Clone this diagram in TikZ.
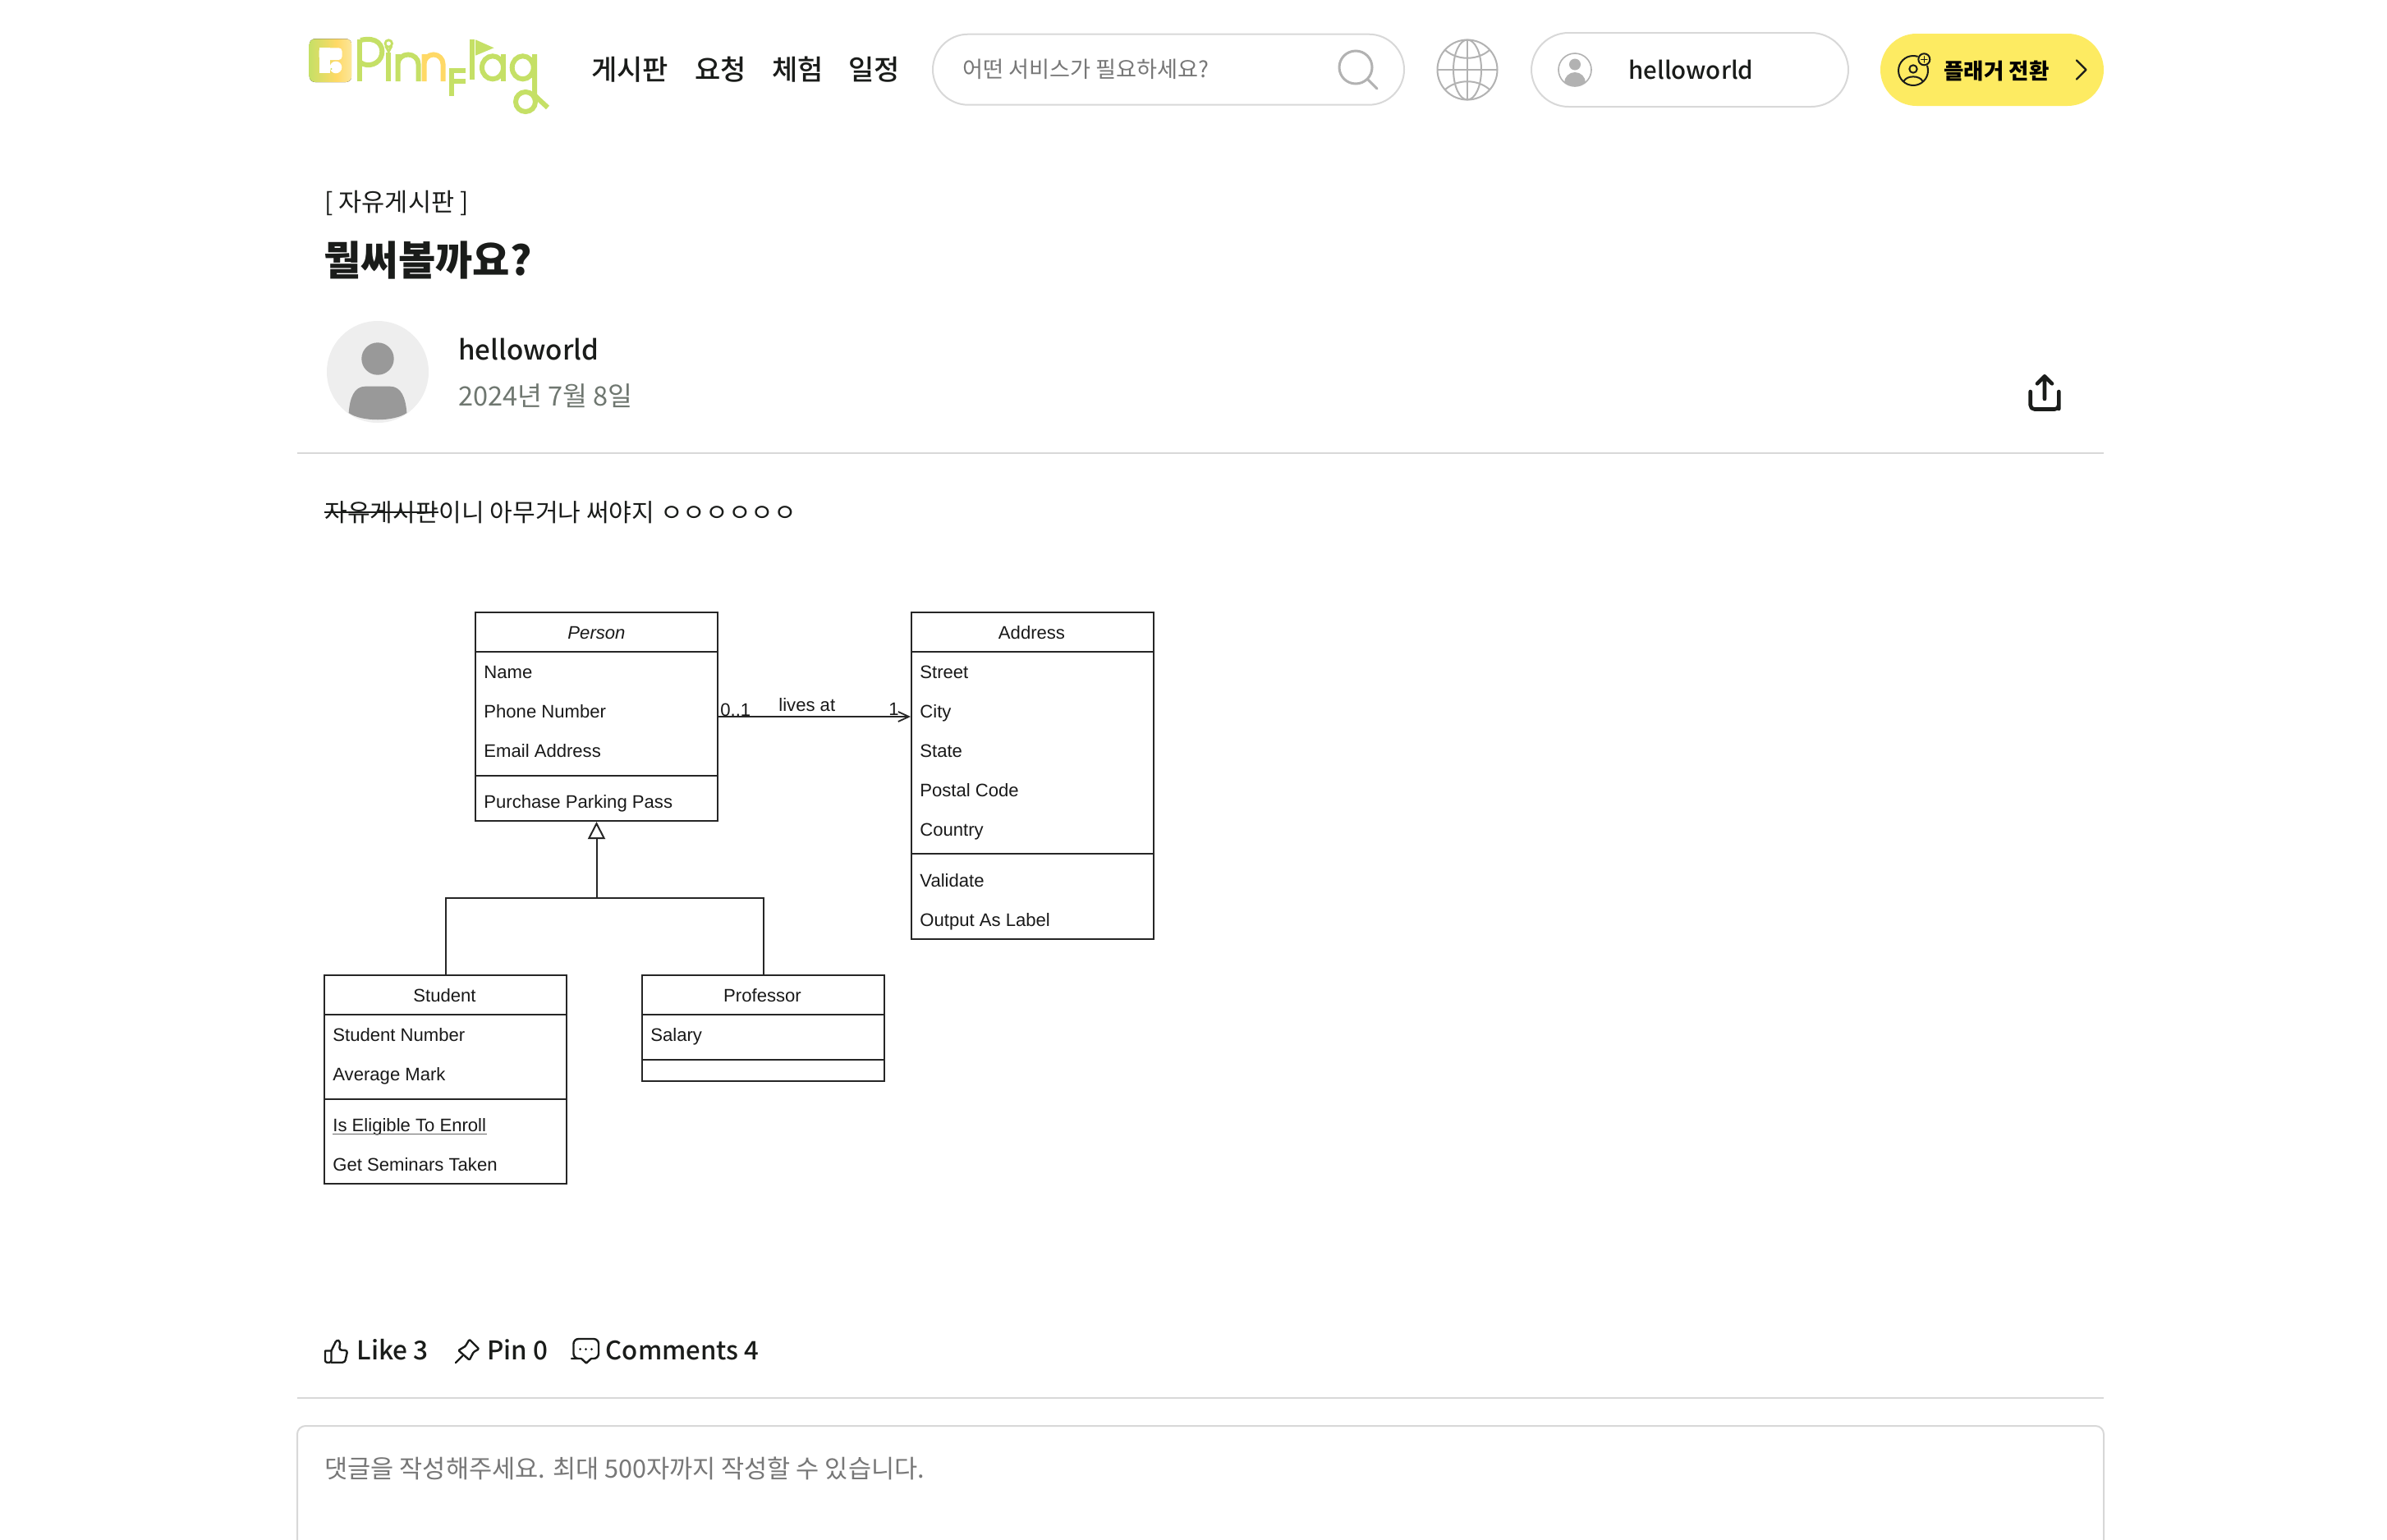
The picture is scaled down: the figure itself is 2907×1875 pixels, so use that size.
\documentclass[tikz,border=0pt]{standalone}
\usepackage{fontspec}
\setmainfont{Liberation Sans}
\newfontfamily\kr{Noto Sans CJK KR}
\newfontfamily\krm{Noto Sans CJK KR Medium}
\usetikzlibrary{arrows.meta,calc}
\definecolor{ink}{HTML}{1A1C1A}
\definecolor{rule}{HTML}{D8D8D8}
\definecolor{hint}{HTML}{777777}
\definecolor{dategray}{HTML}{6F7770}
\definecolor{icongray}{HTML}{B2B2B2}
\definecolor{btn}{HTML}{FDEB62}
\definecolor{lime}{HTML}{C5E066}
\definecolor{sun}{HTML}{FFD966}
\definecolor{pale}{HTML}{FBE79E}
\newcommand{\fpx}[1]{\fontsize{\the\dimexpr #1pt/2\relax}{\the\dimexpr #1pt/2\relax}\selectfont}
\tikzset{
  txt/.style={anchor=base west,inner sep=0pt,text=ink},
  umltxt/.style={anchor=base west,inner sep=0pt,text=black!90,font=\fontsize{11.05}{13}\selectfont},
  umltitle/.style={anchor=base,inner sep=0pt,text=black!90,font=\fontsize{11.05}{13}\selectfont},
  classbox/.style={draw=black!85,line width=1pt,anchor=north west,inner sep=0pt,minimum width=147.5pt},
  umlline/.style={draw=black!85,line width=1pt},
  hair/.style={draw=rule,line width=1pt},
  logostroke/.style={draw=lime,line width=3pt},
  icon/.style={draw=ink,line width=1.2pt,line cap=round,line join=round},
}
\begin{document}
\begin{tikzpicture}[x=0.5pt,y=-0.5pt]
\path[use as bounding box,fill=white] (0,0) rectangle (2907,1875);
% logo
\begin{scope}
\clip[rounded corners=3.5pt] (376.7,47.3) rectangle (428.3,100);
\fill[left color=lime,right color=sun] (376,47) rectangle (410,101);
\fill[left color=sun,right color=pale] (410,47) rectangle (429,101);
\end{scope}
\fill[white] (388.5,58.3) rectangle (401.5,89.3);
\fill[white,rounded corners=2pt] (388.5,58.3) rectangle (416.5,73);
\fill[white] (409,82) circle[radius=7.3];
\fill[lime] (403.5,84) circle[radius=1.2];
\draw[logostroke] (437.8,99) -- (437.8,48);
\draw[logostroke] (439,49) .. controls (460,44) and (467,56) .. (465,66) .. controls (463,78) and (448,83) .. (439,76);
\draw[logostroke] (473,64) -- (473,99);
\draw[draw=lime,line width=1.4pt] (473.3,53) circle[radius=4.2];
\draw[draw=lime,line width=1.4pt] (469.6,56) -- (473.3,63) -- (477,56);
\draw[logostroke] (484.5,99) -- (484.5,66) (484.5,78) arc[start angle=180,end angle=360,x radius=12.5,y radius=11.5] -- (509.5,99);
\draw[draw=sun,line width=3pt] (516.5,99) -- (516.5,66) (516.5,78) arc[start angle=180,end angle=360,x radius=11.5,y radius=11.5] -- (539.5,99);
\draw[logostroke] (550,117) -- (550,83);
\draw[logostroke] (548,85.5) -- (567,85.5) (548,99) -- (567,99);
\draw[logostroke] (574.5,48) -- (574.5,97);
\fill[lime] (579,48.3) -- (601.5,58.3) -- (579,67.7) -- cycle;
\draw[logostroke] (600,82.3) ellipse[x radius=13,y radius=14];
\draw[logostroke] (612.5,66) -- (612.5,99);
\draw[logostroke] (636.7,82.3) ellipse[x radius=13,y radius=14];
\draw[logostroke] (651,66) -- (651,111) .. controls (651,116) .. (654,119) -- (667,131);
\draw[logostroke] (640,124) circle[radius=12];
% nav
\node[txt,font=\krm\fpx{34}] (nav1) at (720,97) {게시판};
\node[txt,font=\krm\fpx{34}] (nav2) at (846,97) {요청};
\node[txt,font=\krm\fpx{34}] (nav3) at (940,97) {체험};
\node[txt,font=\krm\fpx{34}] (nav4) at (1033,97) {일정};
% search
\draw[hair,rounded corners=21.5pt] (1136,41.7) rectangle (1710,127.7);
\node[txt,text=hint,font=\kr\fpx{27.2}] (search) at (1172,94.5) {어떤 서비스가 필요하세요?};
\draw[icongray,line width=1.5pt,line cap=round] (1651,82) circle[radius=20] (1665.5,96.5) -- (1677,108);
% globe
\begin{scope}[draw=icongray,line width=1pt]
\draw (1787,85) circle[radius=36.5];
\draw (1787,85) ellipse[x radius=17,y radius=36.5];
\draw (1787,48.5) -- (1787,121.5) (1750.5,85) -- (1823.5,85);
\draw (1760,61) .. controls (1775,74) and (1799,74) .. (1814,61);
\draw (1760,109) .. controls (1775,96) and (1799,96) .. (1814,109);
\end{scope}
% user pill
\draw[hair,rounded corners=22.7pt] (1865,40) rectangle (2251,130);
\draw[icongray,line width=0.8pt] (1918,85) circle[radius=20];
\fill[icongray] (1918,78.5) circle[radius=7];
\begin{scope}
\clip (1918,85) circle[radius=20];
\fill[icongray] (1918,101) ellipse[x radius=13,y radius=13];
\end{scope}
\node[txt,font=\krm\fpx{29.4}] (pillname) at (1983,96) {helloworld};
% planner button
\fill[btn,rounded corners=22pt] (2290,41) rectangle (2562,129);
\draw[icon,line width=1pt] (2330,86) circle[radius=18];
\draw[icon,line width=1pt] (2330,84) circle[radius=4.7];
\draw[icon,line width=1pt] (2318.5,99) .. controls (2322,91.5) and (2338,91.5) .. (2341.5,99);
\fill[btn] (2343.3,72.3) circle[radius=8.4];
\draw[icon,line width=1pt] (2343.3,72.3) circle[radius=7];
\draw[icon,line width=.8pt] (2339.7,72.3) -- (2346.9,72.3) (2343.3,68.7) -- (2343.3,75.9);
\node[txt,text=black,font=\kr\bfseries\fpx{26.5}] (switch) at (2367,96) {플래거 전환};
\draw[icon] (2529,73.5) -- (2540.5,85) -- (2529,96.5);
% heading
\node[txt,font=\kr\fpx{30.6}] (board) at (395,257) {[ 자유게시판 ]};
\node[txt,font=\kr\bfseries\fpx{49.3}] (title) at (394,335) {뭘써볼까요?};
\fill[black!6.5] (460,453) circle[radius=62];
\fill[black!40] (460,437) ellipse[x radius=19.7,y radius=19.7];
\fill[black!40] (424.7,503) .. controls (426,485) and (431,470.7) .. (445,470.7) -- (475,470.7) .. controls (489,470.7) and (494,485) .. (495.4,503) .. controls (480,514) and (440,514) .. (424.7,503) -- cycle;
\node[txt,font=\krm\fpx{33.1}] (author) at (558,438.5) {helloworld};
\node[txt,text=dategray,font=\kr\fpx{32.5}] (date) at (558,494) {2024년 7월 8일};
\draw[icon,line width=2.3pt] (2472.7,477) -- (2472.7,493) [rounded corners=2.5pt] -- (2472.7,498.5) -- (2507.3,498.5) -- (2507.3,493) [sharp corners] -- (2507.3,477);
\draw[icon,line width=2.3pt] (2490,486) -- (2490,459) (2481,467.3) -- (2490,458.3) -- (2499,467.3);
\draw[hair] (362,551.7) -- (2562,551.7);
% body text
\node[txt,font=\kr\fpx{30.1}] (body1) at (395,635.5) {자유게시판};
\node[txt,font=\kr\fpx{30.1}] (body2) at (body1.base east) {이니 아무거나 써야지 ㅇㅇㅇㅇㅇㅇ};
\draw[draw=ink,line width=1pt] (body1.base west |- 0,624) -- (body1.base east |- 0,624);
% UML classes
\node[classbox,minimum height=127pt] (person) at (578,745) {};
\draw[umlline] (person.west |- 0,793.5) -- (person.east |- 0,793.5) (person.west |- 0,945) -- (person.east |- 0,945);
\node[umltitle,font=\itshape\fontsize{11.05}{13}\selectfont] (pt) at (726.5,778) {Person};
\node[umltxt] (p1) at (589,826) {Name};
\node[umltxt] (p2) at (589,874) {Phone Number};
\node[umltxt] (p3) at (589,922) {Email Address};
\node[umltxt] (p4) at (589,984) {Purchase Parking Pass};
\node[classbox,minimum height=199pt] (address) at (1109,745) {};
\draw[umlline] (address.west |- 0,793.5) -- (address.east |- 0,793.5) (address.west |- 0,1040) -- (address.east |- 0,1040);
\node[umltitle] (at) at (1256.5,778) {Address};
\node[umltxt] (a1) at (1120,826) {Street};
\node[umltxt] (a2) at (1120,874) {City};
\node[umltxt] (a3) at (1120,922) {State};
\node[umltxt] (a4) at (1120,970) {Postal Code};
\node[umltxt] (a5) at (1120,1018) {Country};
\node[umltxt] (a6) at (1120,1080) {Validate};
\node[umltxt] (a7) at (1120,1128) {Output As Label};
\node[classbox,minimum height=127pt] (student) at (394,1187) {};
\draw[umlline] (student.west |- 0,1236) -- (student.east |- 0,1236) (student.west |- 0,1339) -- (student.east |- 0,1339);
\node[umltitle] (st) at (541.5,1220) {Student};
\node[umltxt] (s1) at (405,1268) {Student Number};
\node[umltxt] (s2) at (405,1316.5) {Average Mark};
\node[umltxt] (s3) at (405,1378) {Is Eligible To Enroll};
\draw[draw=black!60,line width=.7pt] (s3.base west |- 0,1381.5) -- (s3.base east |- 0,1381.5);
\node[umltxt] (s4) at (405,1426.5) {Get Seminars Taken};
\node[classbox,minimum height=64.5pt] (professor) at (781,1187) {};
\draw[umlline] (professor.west |- 0,1236) -- (professor.east |- 0,1236) (professor.west |- 0,1291.3) -- (professor.east |- 0,1291.3);
\node[umltitle] (pr) at (928.5,1220) {Professor};
\node[umltxt] (pr1) at (792,1268) {Salary};
% connectors
\coordinate (assoc) at (0,873);
\coordinate (bus) at (person.south |- 0,1094);
\draw[umlline,-{Straight Barb[length=6.5pt,width=6pt,line width=.9pt]}] (person.east |- assoc) -- (address.west |- assoc);
\draw[umlline] (student.north) |- (bus) -| (professor.north);
\draw[umlline,-{Triangle[open,length=10.5pt,width=10.5pt,line width=1pt,fill=white]}] (bus) -- (person.south);
\node[umltxt] (l1) at (877,872.5) {0..1};
\node[umltxt] (l2) at (948,866.5) {lives at};
\node[umltxt] (l3) at (1082,871.5) {1};
% reactions
\draw[icon] (403.5,1645.5) -- (396,1645.5) [rounded corners=1.2pt] -- (396,1659.7) -- (403.5,1659.7) [sharp corners] -- cycle;
\draw[icon,rounded corners=1.5pt] (403.5,1645.5) -- (410,1632) -- (414.5,1634) -- (413,1644.5) -- (423.3,1645) -- (420,1659.7) -- (403.5,1659.7);
\node[txt,font=\krm\fpx{31.6}] (like) at (434,1656.7) {Like 3};
\draw[icon,rounded corners=.6pt] (571.7,1631.7) -- (583.3,1643.3) -- (576.7,1647) -- (571.7,1656.7) -- (558.3,1645) -- (566.7,1640) -- cycle;
\draw[icon] (555,1660) -- (563.3,1651.7);
\node[txt,font=\krm\fpx{31.4}] (pin) at (593,1656.7) {Pin 0};
\draw[icon,rounded corners=3pt] (708,1655) -- (702,1655) -- (698.5,1655) -- (698.5,1631) -- (729,1631) -- (729,1655) -- (720,1655);
\draw[icon] (708,1655) -- (714,1660.5) -- (720,1655);
\fill[ink] (706.7,1643.5) circle[radius=1.5] (713.5,1643.5) circle[radius=1.5] (720.5,1643.5) circle[radius=1.5];
\node[txt,font=\krm\fpx{31.1}] (comments) at (737.5,1656.7) {Comments 4};
\draw[hair] (362,1703) -- (2562,1703);
\draw[hair,rounded corners=5pt] (362,1890) -- (362,1737) -- (2562,1737) -- (2562,1890);
\node[txt,text=hint,font=\kr\fpx{30.6}] (reply) at (395,1800) {댓글을 작성해주세요. 최대 500자까지 작성할 수 있습니다.};
\end{tikzpicture}
\end{document}
